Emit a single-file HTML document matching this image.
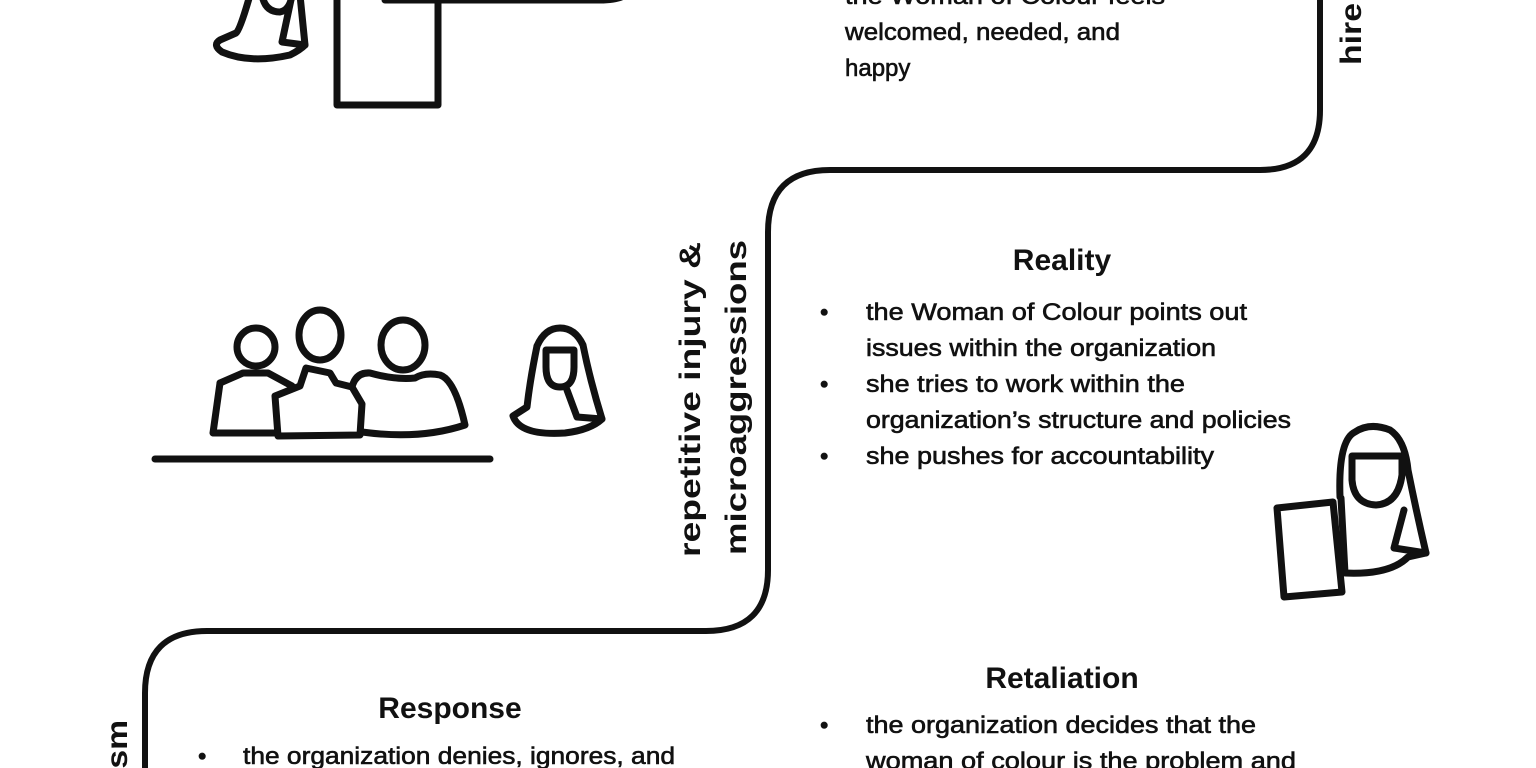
<!DOCTYPE html>
<html><head><meta charset="utf-8"><style>
html,body{margin:0;padding:0;background:#fff;}
svg{display:block;}
text{font-family:"Liberation Sans",sans-serif;fill:#111;}
.b{font-size:24px;stroke:#111;stroke-width:0.6px;}
.h{font-size:30px;font-weight:bold;}
.v{font-size:30px;font-weight:bold;}
</style></head><body>
<svg width="1536" height="768" viewBox="0 0 1536 768" xmlns="http://www.w3.org/2000/svg">
<g fill="none" stroke="#111" stroke-width="7" stroke-linecap="round" stroke-linejoin="round">
<path d="M385,0 L600,0 Q625,0 630,-10"/>
<path d="M1320,0 L1320,110 Q1320,170 1260,170 L830,170 Q768,170 768,232 L768,570 Q768,631 706,631 L207,631 Q145,631 145,693 L145,770" stroke-width="6"/>
<path d="M250,-5 Q240,30 236,33 L220,40 Q212,45 222,52 Q250,64 290,55 Q300,50 305,45 L300,-5"/>
<path d="M262,-5 Q265,12 280,12 Q290,10 292,-5 L282,42 L305,45"/>
<rect x="337" y="-20" width="101" height="125"/>
<circle cx="256" cy="347" r="19"/>
<ellipse cx="320" cy="335" rx="21" ry="25"/>
<ellipse cx="403" cy="345" rx="22" ry="25"/>
<path d="M220,383 L243,373 L268,373 L292,386"/>
<path d="M220,383 L213,433 L276,433"/>
<path d="M275,396 L300,386 L306,368 L330,373 L336,383 L352,387 L362,404 L360,435 L278,436 Z"/>
<path d="M352,387 Q356,372 370,373 Q395,380 415,378 Q425,372 440,375 Q455,380 465,425 Q420,440 362,432"/>
<line x1="155" y1="459" x2="490" y2="459"/>
<path d="M537,346 Q545,328 560,328 Q575,328 583,345 Q590,380 602,419 L577,417 L567,390"/>
<path d="M537,346 Q530,380 527,407 L513,416 Q520,436 565,433 Q590,430 602,419"/>
<path d="M546,350 L574,350 L574,367 Q574,387 560,387 Q546,387 546,367 Z"/>
<path d="M1340,497 Q1338,440 1355,432 Q1370,422 1390,430 Q1405,440 1408,470 Q1416,510 1426,553 L1394,548 L1404,510"/>
<path d="M1341,498 L1345,573 Q1390,575 1408,557 L1426,553"/>
<path d="M1352,456 L1402,456 L1402,475 Q1398,504 1376,505 Q1354,504 1352,480 Z"/>
<path d="M1277,508 L1333,502 L1342,592 L1284,597 Z"/>
</g>
<text class="b" x="845" y="4" textLength="320" lengthAdjust="spacingAndGlyphs">the Woman of Colour feels</text>
<text class="b" x="845" y="40" textLength="275" lengthAdjust="spacingAndGlyphs">welcomed, needed, and</text>
<text class="b" x="845" y="76">happy</text>
<text class="v" transform="translate(1361,65) rotate(-90)" textLength="62" lengthAdjust="spacingAndGlyphs">hire</text>
<text class="v" transform="translate(700,557) rotate(-90)" textLength="315" lengthAdjust="spacingAndGlyphs">repetitive injury &amp;</text>
<text class="v" transform="translate(746,555) rotate(-90)" textLength="315" lengthAdjust="spacingAndGlyphs">microaggressions</text>
<text class="v" transform="translate(127,778) rotate(-90)" textLength="58" lengthAdjust="spacingAndGlyphs">ism</text>
<text class="h" x="1062" y="270" text-anchor="middle">Reality</text>
<text class="b" x="820" y="320">•</text>
<text class="b" x="866" y="320" textLength="381" lengthAdjust="spacingAndGlyphs">the Woman of Colour points out</text>
<text class="b" x="866" y="356" textLength="350" lengthAdjust="spacingAndGlyphs">issues within the organization</text>
<text class="b" x="820" y="392">•</text>
<text class="b" x="866" y="392" textLength="319" lengthAdjust="spacingAndGlyphs">she tries to work within the</text>
<text class="b" x="866" y="428" textLength="425" lengthAdjust="spacingAndGlyphs">organization’s structure and policies</text>
<text class="b" x="820" y="464">•</text>
<text class="b" x="866" y="464" textLength="348" lengthAdjust="spacingAndGlyphs">she pushes for accountability</text>
<text class="h" x="1062" y="688" text-anchor="middle">Retaliation</text>
<text class="b" x="820" y="733">•</text>
<text class="b" x="866" y="733" textLength="390" lengthAdjust="spacingAndGlyphs">the organization decides that the</text>
<text class="b" x="866" y="769" textLength="430" lengthAdjust="spacingAndGlyphs">woman of colour is the problem and</text>
<text class="h" x="450" y="718" text-anchor="middle">Response</text>
<text class="b" x="198" y="764">•</text>
<text class="b" x="243" y="764" textLength="432" lengthAdjust="spacingAndGlyphs">the organization denies, ignores, and</text>
</svg>
</body></html>
